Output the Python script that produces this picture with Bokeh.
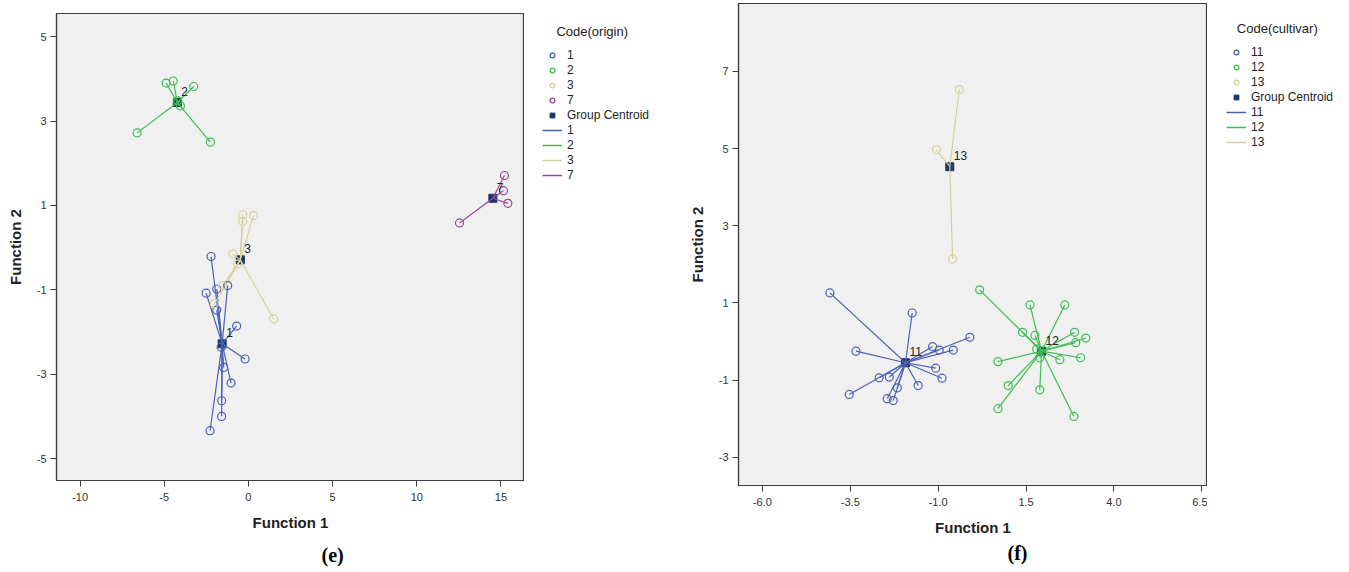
from bokeh.plotting import figure
from bokeh.models import (FixedTicker, Legend, LegendItem, Title,
                          NumeralTickFormatter, Range1d, Spacer)
from bokeh.layouts import row, column
from bokeh.embed import file_html
from bokeh.resources import INLINE
from bokeh.core.properties import value

# ---------------- Panel (e): Code(origin) ----------------
e_groups = ["1", "2", "3", "7"]
e_g1_x = [-2.22, -2.51, -1.88, -1.23, -1.88, -0.70, -1.62, -0.20, -1.47, -1.03, -1.59, -1.59, -2.28]
e_g1_y = [-0.21, -1.08, -0.98, -0.90, -1.48, -1.86, -2.36, -2.64, -2.84, -3.21, -3.63, -4.00, -4.34]
e_g2_x = [-4.89, -4.46, -3.25, -6.61, -2.26, -4.04, -4.20]
e_g2_y = [3.90, 3.95, 3.82, 2.72, 2.50, 3.36, 3.48]
e_g3_x = [-0.34, -0.34, 0.30, -0.93, -0.64, -1.53, -2.02, 1.50]
e_g3_y = [0.78, 0.62, 0.76, -0.15, -0.39, -0.90, -1.33, -1.69]
e_g7_x = [15.21, 15.15, 15.41, 12.54]
e_g7_y = [1.71, 1.35, 1.05, 0.585]
e_centroid_x = [-1.56, -4.22, -0.48, 14.52]
e_centroid_y = [-2.28, 3.44, -0.29, 1.17]
e_xticks = [-10, -5, 0, 5, 10, 15]
e_yticks = [-5, -3, -1, 1, 3, 5]

# ---------------- Panel (f): Code(cultivar) ----------------
f_groups = ["11", "12", "13"]
f_g11_x = [-4.08, -1.74, -3.34, -0.10, -1.16, -0.97, -0.57, -1.07, -0.89, -1.57, -2.68, -2.39, -2.16, -3.53, -2.45, -2.28]
f_g11_y = [1.26, 0.74, -0.25, 0.11, -0.13, -0.22, -0.22, -0.69, -0.95, -1.14, -0.94, -0.92, -1.20, -1.37, -1.48, -1.53]
f_g12_x = [0.18, 1.61, 2.60, 1.40, 1.75, 2.88, 3.20, 2.91, 1.80, 2.46, 3.05, 1.89, 0.70, 0.99, 1.89, 0.70, 2.86]
f_g12_y = [1.34, 0.95, 0.95, 0.24, 0.16, 0.24, 0.09, -0.03, -0.19, -0.47, -0.42, -0.42, -0.52, -1.14, -1.25, -1.74, -1.94]
f_g13_x = [-0.40, -1.05, -0.59]
f_g13_y = [6.53, 4.97, 2.14]
f_centroid_x = [-1.93, 1.94, -0.67]
f_centroid_y = [-0.55, -0.25, 4.53]
f_xticks = [-6.0, -3.5, -1.0, 1.5, 4.0, 6.5]
f_yticks = [-3, -1, 1, 3, 5, 7]

BLUE = "#4a60b5"
GREEN = "#3dbd52"
BEIGE = "#d6d19c"
PURPLE = "#974a99"
CENTROID = "#1b3566"
FRAME = "#3c3c3c"


def make_fig(xr, yr, xticks, yticks, width, fh, bl, bt, xfmt):
    p = figure(x_range=Range1d(*xr), y_range=Range1d(*yr), width=width, frame_height=fh,
               min_border_left=bl, min_border_top=bt, min_border_bottom=60, min_border_right=0,
               output_backend="svg", toolbar_location=None,
               background_fill_color="#f0f0f0", border_fill_color="white",
               outline_line_color=FRAME, outline_line_width=1.2)
    p.xgrid.visible = False
    p.ygrid.visible = False
    p.xaxis.ticker = FixedTicker(ticks=xticks, minor_ticks=[])
    p.yaxis.ticker = FixedTicker(ticks=yticks, minor_ticks=[])
    p.xaxis.formatter = NumeralTickFormatter(format=xfmt)
    p.yaxis.formatter = NumeralTickFormatter(format="0")
    p.xaxis.axis_label = "Function 1"
    p.yaxis.axis_label = "Function 2"
    for ax in p.axis:
        ax.axis_line_color = FRAME
        ax.axis_line_width = 1.2
        ax.major_tick_line_color = FRAME
        ax.major_tick_out = 6
        ax.major_tick_in = 0
        ax.minor_tick_line_color = None
        ax.major_label_text_font = "Liberation Sans"
        ax.major_label_text_font_size = "11px"
        ax.major_label_text_color = "#333333"
        ax.axis_label_text_font = "Liberation Sans"
        ax.axis_label_text_font_size = "15px"
        ax.axis_label_text_font_style = "bold"
        ax.axis_label_text_color = "#222222"
        ax.axis_label_standoff = 10
    p.xaxis.major_label_standoff = 6
    p.yaxis.major_label_standoff = 4
    return p


def draw_groups(p, groups, xs_list, ys_list, cx, cy, colors, caption, cap_offset, cap_standoff):
    p.scatter(cx, cy, marker="square", size=8, fill_color=CENTROID, line_color=CENTROID)
    for xs, ys, c, x0, y0 in zip(xs_list, ys_list, colors, cx, cy):
        seg_x = [[x0, xv] for xv in xs]
        seg_y = [[y0, yv] for yv in ys]
        p.multi_line(seg_x, seg_y, line_color=c, line_width=1.2)
    for xs, ys, c in zip(xs_list, ys_list, colors):
        p.scatter(xs, ys, marker="circle", size=8, fill_color=None, line_color=c, line_width=1.2)
    p.text(x=cx, y=cy, text=groups, x_offset=4, y_offset=-11,
           text_font=value("Liberation Sans"), text_font_size="12px",
           text_baseline="middle", text_align="left", text_color="#222222")
    p.add_layout(Title(text=caption, align="left", offset=cap_offset,
                       text_font="Liberation Serif", standoff=cap_standoff,
                       text_font_size="20px", text_font_style="bold", text_color="black"),
                 "below")


def legend_fig(groups, xs_list, ys_list, cx, cy, colors, title, width, height, left, top):
    # legend-only figure: its renderers hold the group data but its ranges show none of it
    q = figure(width=width, height=height, x_range=Range1d(1000, 1001), y_range=Range1d(1000, 1001),
               min_border_left=left, min_border_right=0, min_border_top=top, min_border_bottom=0,
               output_backend="svg", toolbar_location=None, outline_line_color=None,
               background_fill_color="white", border_fill_color="white",
               x_axis_location=None, y_axis_location=None)
    q.xgrid.visible = False
    q.ygrid.visible = False
    items = []
    for g, xs, ys, c in zip(groups, xs_list, ys_list, colors):
        r = q.scatter(x=xs, y=ys, marker="circle", size=11, fill_color=None,
                      line_color=c, line_width=1.3)
        items.append(LegendItem(label=g, renderers=[r]))
    sq = q.scatter(x=cx, y=cy, marker="square", size=7, fill_color=CENTROID, line_color=CENTROID)
    items.append(LegendItem(label="Group Centroid", renderers=[sq]))
    for g, xs, ys, c in zip(groups, xs_list, ys_list, colors):
        r = q.line(x=xs, y=ys, line_color=c, line_width=1.5)
        items.append(LegendItem(label=g, renderers=[r]))
    legend = Legend(items=items, title=title, location="top_left",
                    margin=0, padding=0,
                    spacing=1, glyph_height=12, glyph_width=20, label_height=12,
                    label_standoff=5, label_text_font="Liberation Sans",
                    label_text_font_size="12px", label_text_color="#222222",
                    title_text_font="Liberation Sans", title_text_font_size="13px",
                    title_text_font_style="normal", title_text_color="#222222",
                    title_standoff=9, border_line_color=None, background_fill_alpha=0)
    q.add_layout(legend, "center")
    return q


e_xs = [e_g1_x, e_g2_x, e_g3_x, e_g7_x]
e_ys = [e_g1_y, e_g2_y, e_g3_y, e_g7_y]
e_colors = [BLUE, GREEN, BEIGE, PURPLE]
pe = make_fig((-11.4, 16.4), (-5.52, 5.55), e_xticks, e_yticks, 524, 467, 56, 3, "0")
draw_groups(pe, e_groups, e_xs, e_ys, e_centroid_x, e_centroid_y, e_colors, "(e)", 265, 17)
le = legend_fig(e_groups, e_xs, e_ys, e_centroid_x, e_centroid_y, e_colors,
                "\u00a0\u00a0\u00a0\u00a0Code(origin)", 161, 200, 18, 24)

f_xs = [f_g11_x, f_g12_x, f_g13_x]
f_ys = [f_g11_y, f_g12_y, f_g13_y]
f_colors = [BLUE, GREEN, BEIGE]
pf = make_fig((-6.68, 6.66), (-3.73, 8.76), f_xticks, f_yticks, 522, 482, 52, 3, "0.0")
draw_groups(pf, f_groups, f_xs, f_ys, f_centroid_x, f_centroid_y, f_colors, "(f)", 269, 2)
lf = legend_fig(f_groups, f_xs, f_ys, f_centroid_x, f_centroid_y, f_colors,
                "\u00a0\u00a0\u00a0Code(cultivar)", 136, 180, 19, 21)

layout = row(column(Spacer(height=10), pe), column(le), column(pf), column(lf))
open("out.html", "w").write(file_html(layout, INLINE))
